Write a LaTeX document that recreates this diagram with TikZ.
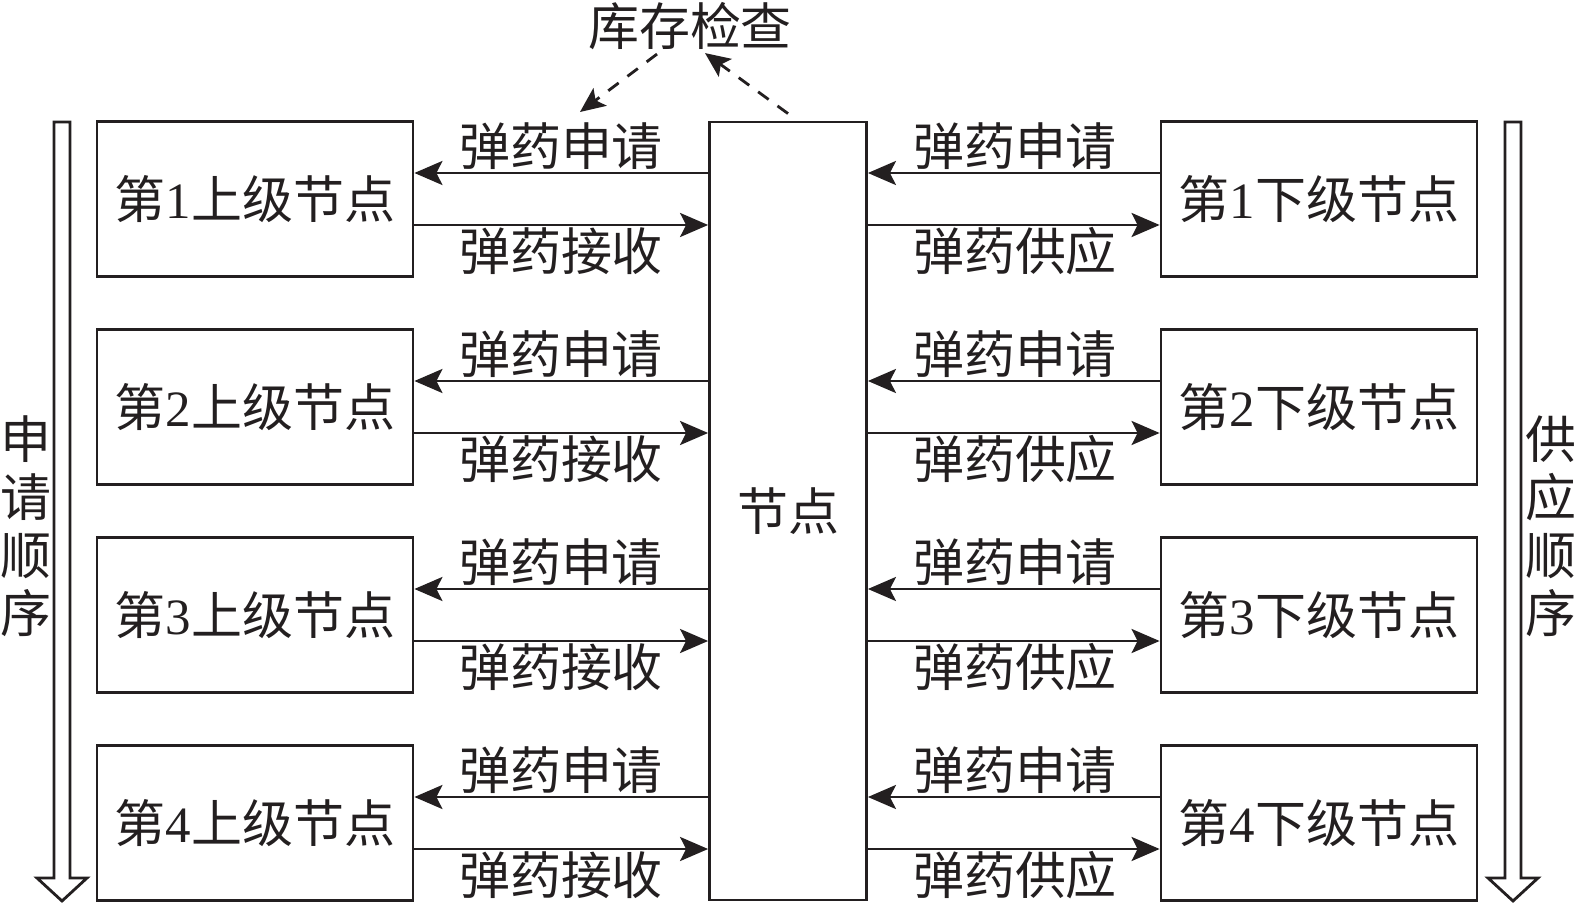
\documentclass[tikz,border=0pt]{standalone}
\usepackage{fontspec}
\setmainfont{Liberation Serif}
\newfontfamily\cjk{Noto Sans CJK SC}
\usetikzlibrary{arrows.meta}
\definecolor{ink}{RGB}{35,31,32}
\definecolor{white}{RGB}{255,255,255}

\tikzset{
	box/.style={rectangle,draw=ink,line width=1.6pt,fill=white,minimum width=63.2mm,minimum height=31mm,inner sep=0pt,text=ink,font=\fontsize{29}{35}\selectfont},
	hubbox/.style={rectangle,draw=ink,line width=1.6pt,fill=white,minimum width=31.4mm,minimum height=155.6mm,inner sep=0pt,text=ink,font=\fontsize{29}{35}\selectfont},
	lbl/.style={inner sep=0pt,text=ink,font=\fontsize{29}{35}\selectfont\cjk},
	sidelbl/.style={inner sep=0pt,text=ink,align=center,font=\fontsize{29}{33}\selectfont\cjk},
	arr/.style={draw=ink,line width=1.6pt,-{Stealth[length=5.6mm,width=4.8mm,inset=1.2mm]}},
	dasharr/.style={draw=ink,line width=1.6pt,dash pattern=on 2.6mm off 2.2mm,-{Stealth[length=5mm,width=4.4mm,inset=1.1mm]}},
	flow/.style={draw=ink,line width=1.6pt,fill=white,line join=miter}
}

\begin{document}
\begin{tikzpicture}[x=0.2mm,y=-0.2mm]
	\useasboundingbox (0,0) rectangle (1577,911);

	\node[hubbox] (hub) at (788,511) {\cjk 节点};
	\node[lbl] (chk) at (690,26) {库存检查};
	\coordinate (req) at (580,112);

	\foreach \i/\y in {1/199,2/407,3/615,4/823} {
		\node[box] (up\i) at (255,\y) {\cjk 第{\rmfamily\i}上级节点};
		\node[box] (down\i) at (1319,\y) {\cjk 第{\rmfamily\i}下级节点};
		\node[lbl] (ask\i) at (561,\y-53) {弹药申请};
		\node[lbl] (get\i) at (561,\y+52) {弹药接收};
		\node[lbl] (need\i) at (1015,\y-53) {弹药申请};
		\node[lbl] (give\i) at (1015,\y+52) {弹药供应};
	}

	\foreach \i in {1,...,4} {
		\draw[arr] ([yshift=5.2mm]up\i.east -| hub.west) -- ([yshift=5.2mm]up\i.east);
		\draw[arr] ([yshift=-5.2mm]up\i.east) -- ([yshift=-5.2mm]up\i.east -| hub.west);
		\draw[arr] ([yshift=5.2mm]down\i.west) -- ([yshift=5.2mm]down\i.west -| hub.east);
		\draw[arr] ([yshift=-5.2mm]down\i.west -| hub.east) -- ([yshift=-5.2mm]down\i.west);
	}

	% stock check
	\draw[dasharr] ([xshift=-6.6mm,yshift=-0.8mm]chk.south) -- (req);
	\draw[dasharr] ([yshift=1.4mm]hub.north) -- ([xshift=3mm,yshift=-0.6mm]chk.south);

	% order of flow
	\node[sidelbl] (reqord) at (26,526) {申\\请\\顺\\序};
	\node[sidelbl] (supord) at (1551,526) {供\\应\\顺\\序};
	\foreach \c in {62,1513}
		\draw[flow] (\c-8,122) -- (\c+8,122) -- (\c+8,878) -- (\c+25,878) -- (\c,901) -- (\c-25,878) -- (\c-8,878) -- cycle;
\end{tikzpicture}
\end{document}
